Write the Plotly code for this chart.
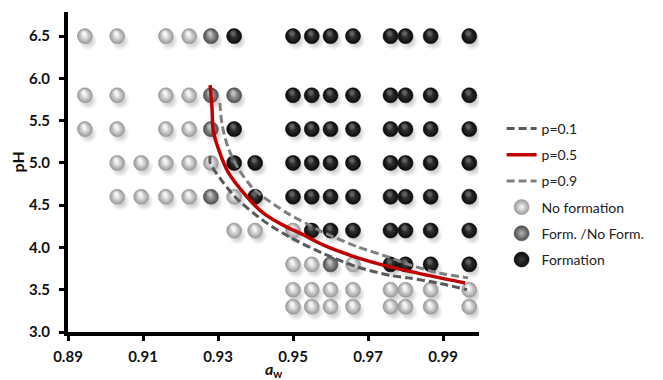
import plotly.graph_objects as go

# ---------------- data ----------------
R = [0.95, 0.955, 0.96, 0.966, 0.976, 0.98, 0.9867, 0.997]  # right-hand block of aw levels

nf_aw = ([0.8945, 0.9031, 0.9161, 0.9223] * 3
         + [0.9031, 0.9095, 0.9161, 0.9223, 0.9281]
         + [0.9031, 0.9095, 0.9161, 0.9223, 0.9343]
         + [0.9343, 0.9399, 0.95]
         + [0.95, 0.955, 0.966]
         + R + R)
nf_ph = ([6.5] * 4 + [5.8] * 4 + [5.4] * 4
         + [5.0] * 5 + [4.6] * 5 + [4.2] * 3 + [3.8] * 3
         + [3.5] * 8 + [3.3] * 8)

mid_aw = [0.9281, 0.9281, 0.9343, 0.9281, 0.9281, 0.96]
mid_ph = [6.5, 5.8, 5.8, 5.4, 4.6, 3.8]

f_aw = ([0.9343] + R + R + [0.9343] + R + [0.9343, 0.9399] + R + [0.9399] + R
        + R[1:] + R[4:])
f_ph = ([6.5] * 9 + [5.8] * 8 + [5.4] * 9 + [5.0] * 10 + [4.6] * 9
        + [4.2] * 7 + [3.8] * 4)

p01_aw = [0.9279, 0.9279, 0.9305, 0.9337, 0.9359, 0.9420, 0.9492, 0.9580, 0.9671, 0.9759, 0.9807, 0.9887, 0.9964]
p01_ph = [5.08, 5.00, 4.82, 4.64, 4.54, 4.32, 4.12, 3.93, 3.77, 3.67, 3.64, 3.58, 3.50]

p05_aw = [0.9279, 0.9284, 0.9287, 0.9300, 0.9327, 0.9377, 0.9420, 0.9484, 0.9519, 0.9580, 0.9671, 0.9759, 0.9860, 0.9959]
p05_ph = [5.92, 5.65, 5.39, 5.18, 4.89, 4.60, 4.41, 4.24, 4.17, 4.03, 3.88, 3.77, 3.67, 3.58]

p09_aw = [0.9305, 0.9311, 0.9327, 0.9353, 0.9391, 0.9420, 0.9487, 0.9537, 0.9580, 0.9671, 0.9759, 0.9807, 0.9887, 0.9967]
p09_ph = [5.71, 5.45, 5.18, 4.94, 4.71, 4.60, 4.40, 4.28, 4.18, 4.01, 3.88, 3.80, 3.70, 3.64]

x_ticks = [0.89, 0.91, 0.93, 0.95, 0.97, 0.99]
y_ticks = [3.0, 3.5, 4.0, 4.5, 5.0, 5.5, 6.0, 6.5]

# ---------------- figure ----------------
fig = go.Figure()
FONT = "Lato, 'Open Sans', sans-serif"

# soft drop shadows (offset from each ball)
SH_DX, SH_DY = 0.0008, 0.055
all_aw = nf_aw + mid_aw + f_aw
all_ph = nf_ph + mid_ph + f_ph
fig.add_trace(go.Scatter(
    x=[a + SH_DX for a in all_aw], y=[p - SH_DY for p in all_ph],
    mode="markers", showlegend=False, hoverinfo="skip",
    marker=dict(size=19, color="rgba(0,0,0,0)", line=dict(width=0),
                gradient=dict(type="radial", color="rgba(0,0,0,0.30)"))))

def balls(x, y, name, edge, center, hi, rank):
    fig.add_trace(go.Scatter(
        x=x, y=y, mode="markers", name=name, legendrank=rank, legendgroup=name,
        marker=dict(size=15, color=edge, line=dict(width=0.6, color=edge),
                    gradient=dict(type="radial", color=center))))
    # specular highlight slightly above centre
    fig.add_trace(go.Scatter(
        x=[a - 0.0003 for a in x], y=[p + 0.035 for p in y],
        mode="markers", showlegend=False, hoverinfo="skip",
        marker=dict(size=8, color="rgba(255,255,255,0)", line=dict(width=0),
                    gradient=dict(type="radial", color=hi))))

balls(nf_aw, nf_ph, "No formation", "#9a9a9a", "#f8f8f8", "rgba(255,255,255,1)", 4)
balls(mid_aw, mid_ph, "Form. /No Form.", "#4d4d4d", "#b4b4b4", "rgba(230,230,230,0.7)", 5)
balls(f_aw, f_ph, "Formation", "#0a0a0a", "#3c3c3c", "rgba(150,150,150,0.55)", 6)

def curve(x, y, name, color, width, dash, rank):
    fig.add_trace(go.Scatter(
        x=x, y=y, mode="lines", name=name, legendrank=rank, legendgroup=name,
        line=dict(color=color, width=width, dash=dash, shape="spline", smoothing=0.8)))

curve(p01_aw, p01_ph, "p=0.1", "#595959", 3, "8px,4px", 1)
curve(p05_aw, p05_ph, "p=0.5", "#c00000", 3.5, "solid", 2)
curve(p09_aw, p09_ph, "p=0.9", "#808080", 3, "8px,4px", 3)

tickfont = dict(family=FONT, size=15, color="#111111", weight="bold")

fig.update_layout(
    width=663, height=380,
    margin=dict(l=68, r=184, t=12, b=48),
    paper_bgcolor="white", plot_bgcolor="white",
    font=dict(family=FONT, color="#111111"),
    legend=dict(x=1.055, xanchor="left", y=0.43, yanchor="middle",
                traceorder="grouped", tracegroupgap=5,
                font=dict(size=14, color="#222222"), bgcolor="rgba(0,0,0,0)"),
    xaxis=dict(range=[0.89, 0.9996], tickvals=x_ticks, tickformat=".2f",
               showgrid=False, zeroline=False, showline=True, linecolor="black",
               linewidth=4, ticks="outside", ticklen=5, tickwidth=3, tickcolor="black",
               tickfont=tickfont, ticklabelstandoff=3, automargin=False),
    yaxis=dict(range=[3.0, 6.785], tickvals=y_ticks, tickformat=".1f",
               showgrid=False, zeroline=False, showline=True, linecolor="black",
               linewidth=4, ticks="outside", ticklen=5, tickwidth=3, tickcolor="black",
               tickfont=tickfont, ticklabelstandoff=6, automargin=False),
    annotations=[
        dict(text="<b><i>a</i><sub>w</sub></b>", xref="paper", yref="paper",
             x=0.5, y=0, yshift=-25, xanchor="center", yanchor="top",
             showarrow=False, font=dict(family=FONT, size=16, color="#111111")),
        dict(text="<b>pH</b>", xref="paper", yref="paper",
             x=0, xshift=-51, y=0.53, xanchor="center", yanchor="middle",
             textangle=-90, showarrow=False,
             font=dict(family=FONT, size=16, color="#111111")),
    ],
)

fig.write_html("out.html", config={"displayModeBar": False},
               post_script="document.body.style.margin='0';")
